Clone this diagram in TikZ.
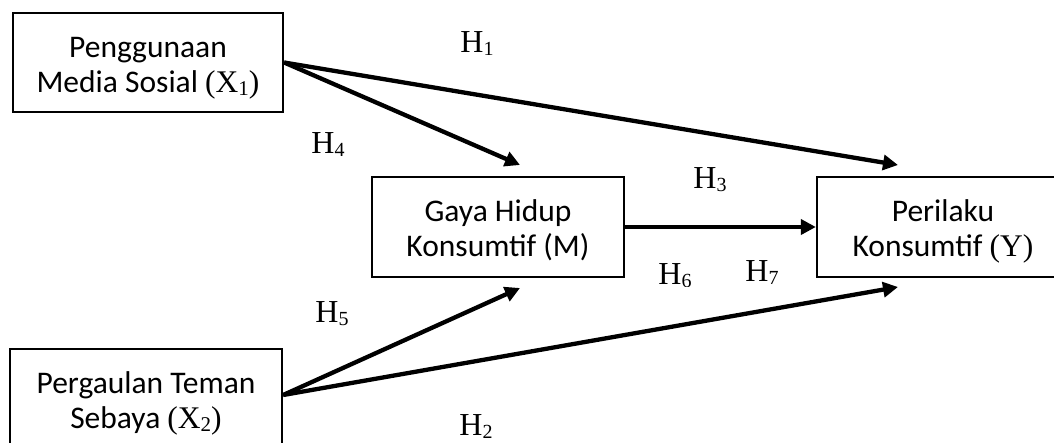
\documentclass[tikz,border=0pt]{standalone}
\usepackage{fontspec}
\setmainfont{Carlito}
\newfontfamily\tms{Liberation Serif}
\usetikzlibrary{arrows.meta,calc}
\newcommand\subs[2]{\raisebox{-3pt}{\fontsize{#1}{#1}\selectfont #2}}
\begin{document}
\begin{tikzpicture}[x=1pt,y=-1pt,
  box/.style={draw, line width=2.3pt, minimum height=99pt, align=center,
    font=\fontsize{31.5}{35}\selectfont, text height=66pt, text depth=7pt, inner sep=0pt},
  hl/.style={font=\tms\fontsize{32}{32}\selectfont, inner sep=0pt},
  arr/.style={line width=4.3pt, -{Triangle[length=15pt,width=15pt]}}]
\useasboundingbox (0,0) rectangle (1054,442);
% boxes
\node[box, minimum width=270pt] (x1) at (148,62.5) {Penggunaan\\Media Sosial {\tms(X\subs{21}{1})}};
\node[box, minimum width=252pt, minimum height=100pt] (m) at (498,227) {Gaya Hidup\\Konsumtif (M)};
\node[box, minimum width=252pt, minimum height=100pt] (y) at (943,227) {Perilaku\\Konsumtif {\tms(Y)}};
\node[box, minimum width=272pt] (x2) at (146,398.5) {Pergaulan Teman\\Sebaya {\tms(X\subs{21}{2})}};
% arrow end points
\coordinate (x2o) at ($(x2.east)+(0,-3.5)$);
\coordinate (t1) at (898,165);
\coordinate (t4) at (520,165);
\coordinate (t5) at (520,288);
\coordinate (t2) at (898,287);
% connectors
\draw[arr] (x1.east) -- (t1);
\draw[arr] (x1.east) -- (t4);
\draw[arr] (m.east) -- (y.west);
\draw[arr] (x2o) -- (t5);
\draw[arr] (x2o) -- (t2);
% labels
\node[hl] (h1) at (477,44) {H\subs{20}{1}};
\node[hl] (h4) at (328,145) {H\subs{20}{4}};
\node[hl] (h5) at (332,314) {H\subs{20}{5}};
\node[hl] (h2) at (476,427) {H\subs{20}{2}};
\node[hl] (h7) at (762,273) {H\subs{20}{7}};
\begin{scope}
  \clip (600,100) rectangle (800,191);
  \node[hl] (h3) at (710,180) {H\subs{20}{3}};
\end{scope}
\begin{scope}
  \clip (600,240) rectangle (740,286.5);
  \node[hl] (h6) at (675,276) {H\subs{20}{6}};
\end{scope}
\end{tikzpicture}
\end{document}
